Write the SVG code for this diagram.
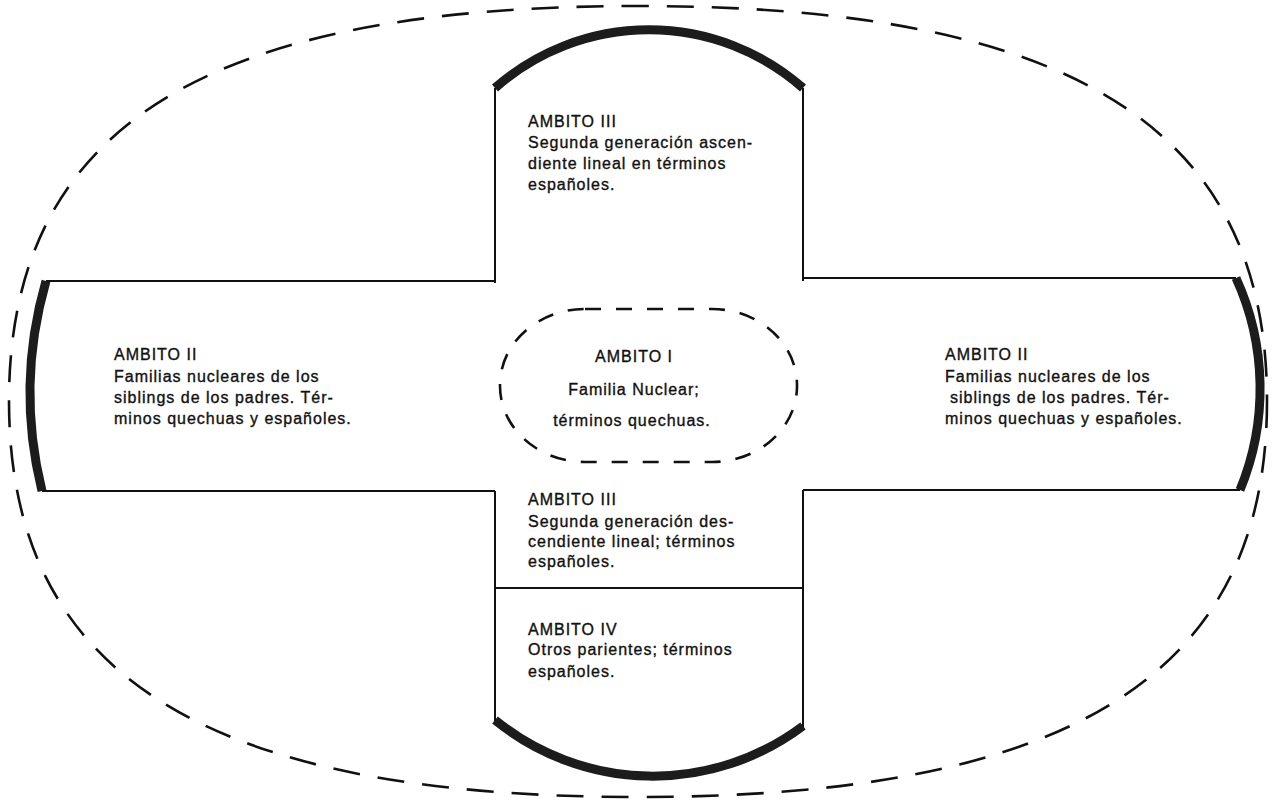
<svg xmlns="http://www.w3.org/2000/svg" width="1272" height="800" viewBox="0 0 1272 800">
<style>
.bg{fill:#fff}
.ln{fill:none;stroke:#111;stroke-width:2}
.thick{fill:none;stroke:#1c1c1c;stroke-width:9;stroke-linecap:butt}
.outer{fill:none;stroke:#111;stroke-width:2.6;stroke-dasharray:27 18}
.inner{fill:none;stroke:#111;stroke-width:2.6;stroke-dasharray:16 15}
text{font-family:"Liberation Sans",Arial,sans-serif;font-size:16px;fill:#111;stroke:#111;stroke-width:0.35;letter-spacing:1px}
.c{text-anchor:middle}
</style>
<rect class="bg" x="0" y="0" width="1272" height="800"/>
<g id="outer-ellipse">
<path class="outer" d="M 1267 401 C 1267 674 1072 797 638 797 C 204 797 9 674 9 401 C 9 128 204 6 638 6 C 1072 6 1267 128 1267 401 Z"/>
</g>
<g id="connectors">
<path class="ln" d="M 495 88 L 495 283 M 803 88 L 803 281"/>
<path class="ln" d="M 46 281 L 495 281 M 803 278 L 1236 278"/>
<path class="ln" d="M 42 491 L 495 491 M 803 490 L 1240 490"/>
<path class="ln" d="M 495 491 L 495 722 M 803 490 L 803 728"/>
<path class="ln" d="M 495 588 L 803 588"/>
</g>
<g id="ambito-iii-top">
<path class="thick" d="M 495 88 A 233 233 0 0 1 803 88"/>
<text x="528" y="127">AMBITO  III</text>
<text x="528" y="148">Segunda generación ascen-</text>
<text x="528" y="169">diente lineal en términos</text>
<text x="528" y="190">españoles.</text>
</g>
<g id="ambito-ii-left">
<path class="thick" d="M 46 281 A 408 408 0 0 0 42 491"/>
<text x="114" y="360">AMBITO II</text>
<text x="114" y="382">Familias nucleares de los</text>
<text x="114" y="403">siblings de los padres. Tér-</text>
<text x="114" y="424">minos quechuas y españoles.</text>
</g>
<g id="ambito-ii-right">
<path class="thick" d="M 1236 278 A 266 266 0 0 1 1240 490"/>
<text x="945" y="360">AMBITO II</text>
<text x="945" y="382">Familias nucleares de los</text>
<text x="950" y="403">siblings de los padres. Tér-</text>
<text x="945" y="424">minos quechuas y españoles.</text>
</g>
<g id="ambito-i">
<rect class="inner" x="500" y="309" width="297" height="153" rx="85" ry="76"/>
<text class="c" x="634" y="362">AMBITO I</text>
<text class="c" x="634" y="395">Familia  Nuclear;</text>
<text class="c" x="632" y="426">términos quechuas.</text>
</g>
<g id="ambito-iii-bottom">
<text x="528" y="505">AMBITO III</text>
<text x="528" y="527">Segunda generación des-</text>
<text x="528" y="547">cendiente lineal; términos</text>
<text x="528" y="567">españoles.</text>
</g>
<g id="ambito-iv">
<path class="thick" d="M 495 720 A 250 250 0 0 0 803 726"/>
<text x="528" y="635">AMBITO IV</text>
<text x="528" y="655">Otros parientes; términos</text>
<text x="528" y="677">españoles.</text>
</g>
</svg>
